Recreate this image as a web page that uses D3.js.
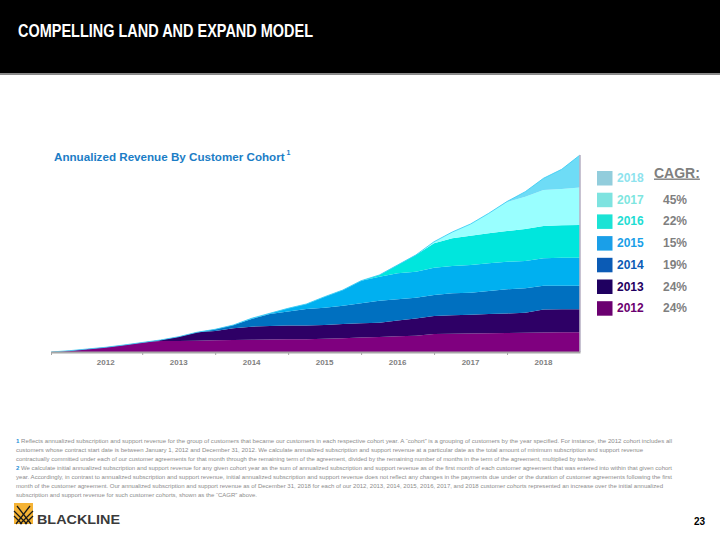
<!DOCTYPE html>
<html><head><meta charset="utf-8">
<script src="https://cdn.jsdelivr.net/npm/d3@7"></script>
<style>
body{margin:0;background:#fff}
svg{display:block;font-family:"Liberation Sans",Arial,Helvetica,sans-serif}
</style>
</head><body>
<svg id="c" width="720" height="540"></svg>
<script>
// ---------- data ----------
const quarters = [2011.75,2012.0,2012.25,2012.5,2012.75,2013.0,2013.25,2013.5,2013.75,2014.0,2014.25,2014.5,2014.75,2015.0,2015.25,2015.5,2015.75,2016.0,2016.25,2016.5,2016.75,2017.0,2017.25,2017.5,2017.75,2018.0,2018.25,2018.5,2018.75,2019.0];
const cohorts = ["2012","2013","2014","2015","2016","2017","2018"];
const rev2012 = [0,1.8,4.2,6.6,9.8,13.3,15.4,15.4,15.8,16.4,16.8,17.2,17.5,17.8,17.9,18.5,19.2,20.3,21.0,22.1,22.7,25.2,25.6,25.9,26.2,26.6,27.0,27.3,27.6,27.6];
const rev2013 = [0,0,0,0,0,0,1.4,6.0,11.8,13.0,16.4,18.2,18.9,19.3,19.2,19.3,20.0,19.9,20.0,22.0,24.2,25.2,25.8,26.3,27.0,27.3,28.0,32.2,32.2,32.2];
const rev2014 = [0,0,0,0,0,0,0,0,0,2.4,4.6,10.8,16.8,19.6,23.1,24.2,25.6,28.0,30.8,29.7,29.1,29.4,30.8,30.8,32.2,33.9,34.2,33.3,33.0,33.0];
const rev2015 = [0,0,0,0,0,0,0,0,0,0,0,1.0,1.0,4.5,7.0,15.4,22.0,31.6,33.6,36.4,36.4,38.2,38.2,38.8,38.8,38.6,38.2,38.4,39.2,39.2];
const rev2016 = [0,0,0,0,0,0,0,0,0,0,0,0,0,0,0,0,0,0,2.4,11.6,23.4,34.2,38.8,41.0,42.0,43.0,44.8,45.2,45.4,45.8];
const rev2017 = [0,0,0,0,0,0,0,0,0,0,0,0,0,0,0,0,0,0,0,0,0,2.2,8.8,16.4,28.0,40.6,45.2,50.4,50.8,52.5];
const rev2018 = [0,0,0,0,0,0,0,0,0,0,0,0,0,0,0,0,0,0,0,0,0,0,0,0,0,0.7,7.0,16.4,27.6,45.5];
const cagrByCohort = {"2012":"24%","2013":"24%","2014":"19%","2015":"15%","2016":"22%","2017":"45%","2018":""};
const yearLabels = ["2012","2013","2014","2015","2016","2017","2018"];
const tickYears = [2011.75,2013,2014,2015,2016,2017,2018];

const areaColors = ["#7F007F","#2E0066","#0070C0","#00B0F0","#00E6DD","#99FFFF","#6EDCF6"];
const legendColors = ["#6B0070","#1F0060","#0B5BB5","#1A9FE8","#1BE3D5","#7EE3E0","#92CDDC"];
const legendTextColors = ["#6B0070","#1F0060","#0B5BB5","#1A9FE8","#22DDD3","#7EE6E0","#8EE3EE"];

const footnotes = [
 ["1"," Reflects annualized subscription and support revenue for the group of customers that became our customers in each respective cohort year. A \u201ccohort\u201d is a grouping of customers by the year specified. For instance, the 2012 cohort includes all"],
 ["","customers whose contract start date is between January 1, 2012 and December 31, 2012. We calculate annualized subscription and support revenue at a particular date as the total amount of minimum subscription and support revenue"],
 ["","contractually committed under each of our customer agreements for that month through the remaining term of the agreement, divided by the remaining number of months in the term of the agreement, multiplied by twelve."],
 ["2"," We calculate initial annualized subscription and support revenue for any given cohort year as the sum of annualized subscription and support revenue as of the first month of each customer agreement that was entered into within that given cohort"],
 ["","year. Accordingly, in contrast to annualized subscription and support revenue, initial annualized subscription and support revenue does not reflect any changes in the payments due under or the duration of customer agreements following the first"],
 ["","month of the customer agreement. Our annualized subscription and support revenue as of December 31, 2018 for each of our 2012, 2013, 2014, 2015, 2016, 2017, and 2018 customer cohorts represented an increase over the initial annualized"],
 ["","subscription and support revenue for such customer cohorts, shown as the \u201cCAGR\u201d above."]
];
const footWidths = [656,627,580,656,656,647,241];

// ---------- build ----------
const series = [rev2012,rev2013,rev2014,rev2015,rev2016,rev2017,rev2018];
const table = quarters.map((t,i)=>{const r={t}; cohorts.forEach((c,k)=>r[c]=series[k][i]); return r;});
const stacked = d3.stack().keys(cohorts)(table);

const svg = d3.select("#c");

// header
svg.append("rect").attr("x",0).attr("y",0).attr("width",720).attr("height",73).attr("fill","#000");
svg.append("rect").attr("x",0).attr("y",73).attr("width",720).attr("height",2).attr("fill","#8a8a8a");
svg.append("text").attr("x",18).attr("y",37).attr("fill","#fff")
  .attr("font-size",18.5).attr("font-weight","bold")
  .attr("textLength",295).attr("lengthAdjust","spacingAndGlyphs")
  .text("COMPELLING LAND AND EXPAND MODEL");

// chart title with superscript (font fitted to width)
const ctitle = svg.append("text").attr("x",54).attr("y",161).attr("fill","#1B7DC6")
  .attr("font-size",12).attr("font-weight","bold")
  .text("Annualized Revenue By Customer Cohort");
let tl = ctitle.node().getComputedTextLength();
if (tl > 231) { ctitle.attr("font-size", 12*231/tl); tl = ctitle.node().getComputedTextLength(); }
svg.append("text").attr("x",54+tl+2).attr("y",155).attr("fill","#1B7DC6")
  .attr("font-size",7).attr("font-weight","bold").text("1");

// scales
const x = d3.scaleLinear().domain([2011.75,2019]).range([51,580]);
const y = d3.scaleLinear().domain([0,280]).range([352,152]);

const area = d3.area().x(d=>x(d.data.t)).y0(d=>y(d[0])).y1(d=>y(d[1]));
svg.append("g").selectAll("path").data(stacked).join("path")
  .attr("d",area).attr("fill",(d,i)=>areaColors[i]);

// thin edge on top of envelope
const topLayer = stacked[stacked.length-1];
svg.append("path").datum(topLayer)
  .attr("d",d3.line().x(d=>x(d.data.t)).y(d=>y(d[1])))
  .attr("fill","none").attr("stroke","#3FCDF4").attr("stroke-width",0.9);

// right border
const lastPt = topLayer[topLayer.length-1];
svg.append("line").attr("x1",x(2019)).attr("x2",x(2019))
  .attr("y1",y(lastPt[1])).attr("y2",y(0))
  .attr("stroke","#B9B3C6").attr("stroke-width",1.6);

// x axis
const ax = svg.append("g").attr("transform",`translate(0,${y(0)})`)
  .call(d3.axisBottom(x).tickValues(tickYears).tickFormat("").tickSize(3).tickSizeOuter(0));
ax.select(".domain").attr("stroke","#A6A6A6").attr("stroke-width",2);
ax.selectAll(".tick line").attr("stroke","#A6A6A6").attr("stroke-width",1);
svg.append("g").selectAll("text").data(yearLabels).join("text")
  .attr("x",d=>x(+d+0.5)).attr("y",365).attr("text-anchor","middle")
  .attr("font-size",8).attr("font-weight","bold").attr("fill","#7F7F7F").text(d=>d);

// legend
const legendOrder = cohorts.slice().reverse();
const lg = svg.append("g");
legendOrder.forEach((c,i)=>{
  const k = cohorts.indexOf(c);
  const yy = 171 + i*21.7;
  lg.append("rect").attr("x",597).attr("y",yy).attr("width",15.5).attr("height",14.5).attr("fill",legendColors[k]);
  lg.append("text").attr("x",617).attr("y",yy+11).attr("font-size",12).attr("font-weight","bold")
    .attr("fill",legendTextColors[k]).text(c);
  if (cagrByCohort[c]) lg.append("text").attr("x",675).attr("y",yy+11).attr("text-anchor","middle")
    .attr("font-size",12).attr("font-weight","bold").attr("fill","#7F7F7F").text(cagrByCohort[c]);
});
svg.append("text").attr("x",654).attr("y",177.5).attr("font-size",14).attr("font-weight","bold")
  .attr("fill","#7F7F7F").attr("text-decoration","underline").text("CAGR:");

// footnotes
footnotes.forEach((f,i)=>{
  const t = svg.append("text").attr("x",16).attr("y",442.8+i*9).attr("font-size",6.2).attr("fill","#8C8C8C")
    .attr("textLength",footWidths[i]).attr("lengthAdjust","spacingAndGlyphs");
  if (f[0]) t.append("tspan").attr("fill","#1F8FD8").attr("font-weight","bold").text(f[0]);
  t.append("tspan").text(f[1]);
});

// logo
const lo = svg.append("g");
lo.append("rect").attr("x",14).attr("y",503).attr("width",19).attr("height",21).attr("fill","#F5B335");
[[14,516,22,524],[14,511,27,524],[17,506,31,524],[33,516,25,524],[33,511,20,524],[30,506,16,524]].forEach(s=>{
  lo.append("line").attr("x1",s[0]).attr("y1",s[1]).attr("x2",s[2]).attr("y2",s[3]).attr("stroke","#1a1a1a").attr("stroke-width",1.3);
});
lo.append("text").attr("x",37).attr("y",524).attr("font-size",12.5).attr("font-weight","bold").attr("fill","#3A3A3A")
  .attr("textLength",83).attr("lengthAdjust","spacingAndGlyphs").text("BLACKLINE");

// page number
svg.append("text").attr("x",705).attr("y",524.5).attr("text-anchor","end").attr("font-size",10)
  .attr("font-weight","bold").attr("fill","#000").text("23");
</script>
</body></html>
